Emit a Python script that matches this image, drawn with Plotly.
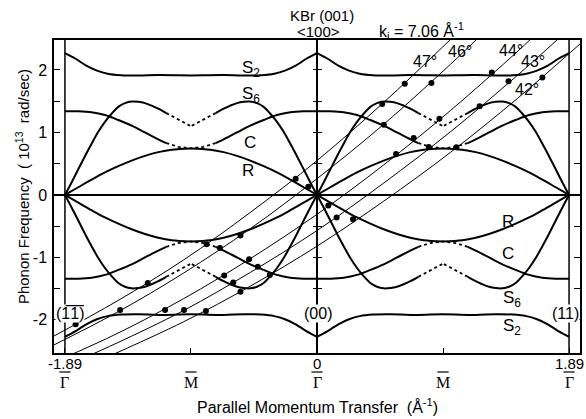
import plotly.graph_objects as go

# ---------------- data ----------------
# special points (Å^-1)
gamma_q = [-1.89, 0.0, 1.89]
m_q = [-0.945, 0.945]
half_zone = 0.945

# dispersion branches in one half zone: distance from Gamma (Å^-1) -> frequency (10^13 rad/s)
d_S2 = [0.0, 0.08, 0.16, 0.24, 0.32, 0.42, 0.55, 0.70, 0.85, 0.945]
w_S2 = [2.27, 2.18, 2.07, 1.99, 1.94, 1.915, 1.91, 1.92, 1.915, 1.91]

d_S6 = [0.0, 0.05, 0.10, 0.15, 0.20, 0.25, 0.30, 0.35, 0.40, 0.45, 0.50, 0.55, 0.60, 0.65, 0.70, 0.76]
w_S6 = [0.0, 0.20, 0.41, 0.62, 0.82, 1.01, 1.17, 1.30, 1.41, 1.47, 1.495, 1.49, 1.47, 1.43, 1.38, 1.31]
d_S6_dash = [0.76, 0.945]
w_S6_dash = [1.31, 1.10]

d_C = [0.0, 0.10, 0.20, 0.30, 0.40, 0.50, 0.60, 0.70, 0.76]
w_C = [1.34, 1.34, 1.325, 1.28, 1.20, 1.11, 1.00, 0.89, 0.83]
d_C_dash = [0.76, 0.85, 0.945]
w_C_dash = [0.83, 0.77, 0.745]

d_R = [0.0, 0.10, 0.20, 0.30, 0.40, 0.50, 0.60, 0.70, 0.80, 0.945]
w_R = [0.0, 0.123, 0.245, 0.36, 0.46, 0.55, 0.625, 0.685, 0.725, 0.745]

# scan curves (incident angle)
scan_labels = ["47°", "46°", "44°", "43°", "42°"]
scan_q = [
    [-2.00, -1.50, -1.00, -0.50, 0.00, 0.50, 1.05],
    [-2.00, -1.50, -1.00, -0.50, 0.00, 0.50, 1.00, 1.25],
    [-1.90, -1.50, -1.00, -0.50, 0.00, 0.50, 1.00, 1.50, 1.62],
    [-1.76, -1.50, -1.00, -0.50, 0.00, 0.50, 1.00, 1.50, 1.82],
    [-1.62, -1.00, -0.50, 0.00, 0.50, 1.00, 1.50, 2.00],
]
scan_w = [
    [-2.29, -1.70, -1.04, -0.28, 0.55, 1.48, 2.59],
    [-2.43, -1.88, -1.25, -0.54, 0.26, 1.13, 2.09, 2.60],
    [-2.61, -2.22, -1.66, -1.02, -0.31, 0.48, 1.35, 2.29, 2.53],
    [-2.62, -2.37, -1.85, -1.24, -0.57, 0.19, 1.01, 1.91, 2.52],
    [-2.64, -2.03, -1.46, -0.82, -0.10, 0.68, 1.54, 2.47],
]
label_q = [0.813, 1.075, 1.456, 1.623, 1.573]
label_w = [2.13, 2.29, 2.32, 2.13, 1.69]

# measured points
dot_q = [0.489, 0.658, 0.858, 0.501, 0.918, 0.593, 0.725, 1.311, 0.838, 1.219, 1.436, 1.045, 1.69,
         -0.16, -0.065, 0.085, 0.147, 0.27,
         -1.81, -1.476, -1.269, -1.139, -0.997, -0.833, -0.828, -0.728, -0.696, -0.628, -0.574,
         -0.509, -0.444, -0.354, -0.574]
dot_w = [1.456, 1.78, 1.79, 1.125, 1.22, 0.656, 0.91, 1.96, 0.768, 1.42, 1.82, 0.763, 1.88,
         0.26, 0.13, -0.17, -0.36, -0.39,
         -2.07, -1.84, -1.41, -1.84, -1.84, -1.856, -0.79, -0.85, -1.29, -1.40, -1.55,
         -1.03, -1.15, -1.28, -0.65]

# branch labels
branch_text = ["S<sub>2</sub>", "S<sub>6</sub>", "C", "R", "R", "C", "S<sub>6</sub>", "S<sub>2</sub>"]
branch_q = [-0.494, -0.494, -0.499, -0.518, 1.434, 1.434, 1.461, 1.461]
branch_w = [2.02, 1.60, 0.84, 0.387, -0.427, -0.933, -1.664, -2.107]

spot_text = ["(1\u03051\u0305)", "(00)", "(11)"]
spot_q = [-1.849, 0.009, 1.86]
spot_w = [-1.893, -1.893, -1.893]

# x tick labels: numbers under Gamma points, symmetry-point letters under all
x_tickvals = [gamma_q[0], m_q[0], gamma_q[1], m_q[1], gamma_q[2]]
x_numtext = ["-1.89", "", "0", "", "1.89"]
x_symtext = ["\u0393", "M", "\u0393", "M", "\u0393"]

x_range = [-1.972, 1.972]
y_range = [-2.53, 2.48]
y_major = [-2, -1, 0, 1, 2]
y_minor = [-1.5, -0.5, 0.5, 1.5]
y_all = [-2, -1.5, -1, -0.5, 0, 0.5, 1, 1.5, 2]

# ---------------- build figure ----------------
def unfold(d, w, sign):
    xs, ys = [], []
    for g in gamma_q:
        for s in (-1, 1):
            if abs(g + s * half_zone) > 1.9:
                continue
            xs += [g + s * di for di in d] + [None]
            ys += [sign * wi for wi in w] + [None]
    return xs, ys

fig = go.Figure()

# scan lines
for q, w in zip(scan_q, scan_w):
    fig.add_trace(go.Scatter(x=q, y=w, mode="lines", line=dict(color="black", width=1, shape="spline"),
                             hoverinfo="skip"))

solid = [(d_S2, w_S2), (d_S6, w_S6), (d_C, w_C), (d_R, w_R)]
dashed = [(d_S6_dash, w_S6_dash), (d_C_dash, w_C_dash)]
for sign in (1, -1):
    for d, w in solid:
        xs, ys = unfold(d, w, sign)
        fig.add_trace(go.Scatter(x=xs, y=ys, mode="lines", connectgaps=False,
                                 line=dict(color="black", width=2, shape="spline"), hoverinfo="skip"))
    for d, w in dashed:
        xs, ys = unfold(d, w, sign)
        fig.add_trace(go.Scatter(x=xs, y=ys, mode="lines", connectgaps=False,
                                 line=dict(color="black", width=1.8, dash="3px,3px"), hoverinfo="skip"))

fig.add_trace(go.Scatter(x=dot_q, y=dot_w, mode="markers", marker=dict(color="black", size=6),
                         hoverinfo="skip"))

# helper traces for central cross-tick axes
fig.add_trace(go.Scatter(x=[0], y=[0], yaxis="y2", mode="markers", marker=dict(opacity=0), hoverinfo="skip"))
fig.add_trace(go.Scatter(x=[0], y=[0], yaxis="y3", mode="markers", marker=dict(opacity=0), hoverinfo="skip"))


def px_x(p):
    return (p - 54) / 528.0


def px_y(p):
    return (353 - p) / 313.0


# vertical lines at zone-boundary Gamma points
for g in gamma_q:
    if g != 0:
        fig.add_shape(type="line", xref="x", yref="paper", x0=g, x1=g, y0=0, y1=1,
                      line=dict(color="black", width=1.5), layer="below")

C = dict(showarrow=False, xanchor="center", yanchor="middle")
ann = []
# x tick labels (two rows) with overbars on the symmetry letters
for tv, nt, st in zip(x_tickvals, x_numtext, x_symtext):
    if nt:
        ann.append(dict(x=tv, y=px_y(364), xref="x", yref="paper", text=nt, font=dict(size=15), **C))
    ann.append(dict(x=tv, y=px_y(382), xref="x", yref="paper", text=st,
                    font=dict(size=16, family="Liberation Serif, DejaVu Serif, serif"), **C))
    fig.add_shape(type="line", xref="x", yref="paper", x0=tv - 0.042, x1=tv + 0.042,
                  y0=px_y(372), y1=px_y(372), line=dict(color="black", width=1.2))

for t, q, w in zip(scan_labels, label_q, label_w):
    ann.append(dict(x=q, y=w, text=t, font=dict(size=16), **C))
for t, q, w in zip(branch_text, branch_q, branch_w):
    ann.append(dict(x=q, y=w, text=t, font=dict(size=17), **C))
for t, q, w in zip(spot_text, spot_q, spot_w):
    ann.append(dict(x=q, y=w, text=t, font=dict(size=16), bgcolor="white", borderpad=0, **C))

P = dict(xref="paper", yref="paper", **C)
ann += [
    dict(x=px_x(323), y=px_y(16), text="KBr (001)", font=dict(size=15), **P),
    dict(x=px_x(320), y=px_y(32), text="&lt;100&gt;", font=dict(size=15), **P),
    dict(x=px_x(423), y=px_y(31), text="k<sub>i</sub> = 7.06 Å<sup>-1</sup>", font=dict(size=16), **P),
    dict(x=px_x(318), y=px_y(406), text="Parallel Momentum Transfer  (Å<sup>-1</sup>)", font=dict(size=16), **P),
    dict(x=px_x(22), y=px_y(187), textangle=-90,
         text="Phonon Frequency  ( 10<sup>13</sup>  rad/sec)", font=dict(size=15), **P),
]

fig.update_layout(
    width=586, height=419,
    margin=dict(l=54, r=4, t=40, b=66),
    plot_bgcolor="white", paper_bgcolor="white",
    showlegend=False,
    font=dict(family="Liberation Sans, Arial, sans-serif", size=16, color="black"),
    annotations=ann,
    xaxis=dict(range=x_range, showgrid=False, showline=True, linecolor="black", linewidth=1.5, mirror=True,
               ticks="inside", ticklen=5, tickwidth=1.2, tickcolor="black",
               tickvals=x_tickvals, showticklabels=False,
               zeroline=True, zerolinecolor="black", zerolinewidth=1.5),
    yaxis=dict(range=y_range, showgrid=False, showline=True, linecolor="black", linewidth=1.5, mirror="ticks",
               ticks="inside", ticklen=6, tickwidth=1.2, tickcolor="black",
               tickvals=y_major, ticktext=[str(v) for v in y_major], ticklabelstandoff=2,
               minor=dict(tickvals=y_minor, ticks="inside", ticklen=6, tickwidth=1.2, tickcolor="black",
                          showgrid=False),
               zeroline=True, zerolinecolor="black", zerolinewidth=1.5),
    yaxis2=dict(range=y_range, overlaying="y", anchor="free", position=0.5, showgrid=False, showline=False,
                zeroline=False, ticks="inside", ticklen=4, tickwidth=1.2, tickcolor="black",
                tickvals=y_all, showticklabels=False),
    yaxis3=dict(range=y_range, overlaying="y", anchor="free", position=0.5, showgrid=False, showline=False,
                zeroline=False, ticks="outside", ticklen=4, tickwidth=1.2, tickcolor="black",
                tickvals=y_all, showticklabels=False),
)

fig.write_html("out.html")
